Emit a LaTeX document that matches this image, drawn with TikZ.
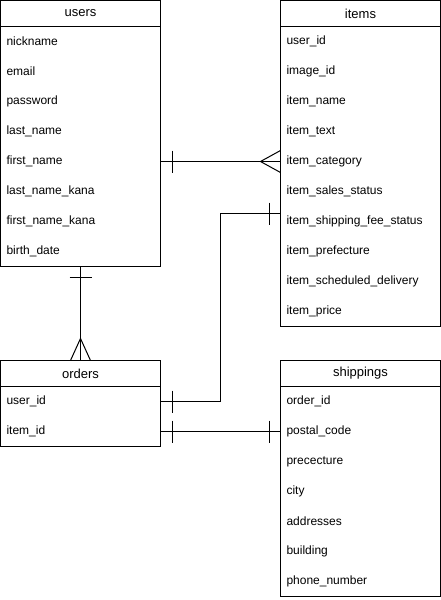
\documentclass[tikz,border=0pt]{standalone}
\usepackage{fontspec}
\setmainfont{Liberation Sans}
\usetikzlibrary{calc, chains, positioning}

\begin{document}
\begin{tikzpicture}[
   x=0.75pt, y=-0.75pt,
   line width=0.75pt,
   node distance=0pt,
   font=\fontsize{9}{11}\selectfont,
   tbl/.style = {draw, inner sep=0pt, outer sep=0pt, minimum width=120pt, minimum height=19.5pt, font=\fontsize{9.75}{12}\selectfont},
   attr/.style = {inner sep=0pt, outer sep=0pt, minimum width=120pt, minimum height=22.5pt, text width=111pt, align=left}]
   \useasboundingbox (0,0) rectangle (441,600);

   \begin{scope}[start chain=going below]
   \node[tbl, on chain, anchor=north west] (users) at (0.5,0.5) {users};
   \node[attr, on chain] (u1) {nickname};
   \node[attr, on chain] (u2) {email};
   \node[attr, on chain] (u3) {password};
   \node[attr, on chain] (u4) {last\_name};
   \node[attr, on chain] (u5) {first\_name};
   \node[attr, on chain] (u6) {last\_name\_kana};
   \node[attr, on chain] (u7) {first\_name\_kana};
   \node[attr, on chain] (u8) {birth\_date};
   \end{scope}
   \draw (u1.north west) rectangle (u8.south east);

   \begin{scope}[start chain=going below]
   \node[tbl, on chain, anchor=north west] (items) at (280.5,0.5) {items};
   \node[attr, on chain] (i1) {user\_id};
   \node[attr, on chain] (i2) {image\_id};
   \node[attr, on chain] (i3) {item\_name};
   \node[attr, on chain] (i4) {item\_text};
   \node[attr, on chain] (i5) {item\_category};
   \node[attr, on chain] (i6) {item\_sales\_status};
   \node[attr, on chain] (i7) {item\_shipping\_fee\_status};
   \node[attr, on chain] (i8) {item\_prefecture};
   \node[attr, on chain] (i9) {item\_scheduled\_delivery};
   \node[attr, on chain] (i10) {item\_price};
   \end{scope}
   \draw (i1.north west) rectangle (i10.south east);

   \begin{scope}[start chain=going below]
   \node[tbl, on chain, anchor=north west] (orders) at (0.5,360.5) {orders};
   \node[attr, on chain] (o1) {user\_id};
   \node[attr, on chain] (o2) {item\_id};
   \end{scope}
   \draw (o1.north west) rectangle (o2.south east);

   \begin{scope}[start chain=going below]
   \node[tbl, on chain, anchor=north west] (shippings) at (280.5,360.5) {shippings};
   \node[attr, on chain] (s1) {order\_id};
   \node[attr, on chain] (s2) {postal\_code};
   \node[attr, on chain] (s3) {prececture};
   \node[attr, on chain] (s4) {city};
   \node[attr, on chain] (s5) {addresses};
   \node[attr, on chain] (s6) {building};
   \node[attr, on chain] (s7) {phone\_number};
   \end{scope}
   \draw (s1.north west) rectangle (s7.south east);

   % users -- items
   \draw (u5.east) -- (i5.west);
   \draw ($(u5.east)+(12,-11)$) -- ++(0,22);
   \draw ($(i5.west)+(0,-11)$) -- ++(-20,11) -- ++(20,11);

   % orders -- items
   \coordinate (fee) at ($(i7.west)+(0,-8)$);
   \draw (o1.east) -| ($(o1.east)!.5!(fee)$) |- (fee);
   \draw ($(o1.east)+(12,-11)$) -- ++(0,22);
   \draw ($(fee)+(-11,-11)$) -- ++(0,22);

   % users -- orders
   \draw (u8.south) -- (orders.north);
   \draw ($(u8.south)+(-11,11)$) -- ++(22,0);
   \draw ($(orders.north)+(-10,0)$) -- ++(10,-22) -- ++(10,22);

   % orders -- shippings
   \draw (o2.east) -- (s2.west);
   \draw ($(o2.east)+(12,-11)$) -- ++(0,22);
   \draw ($(s2.west)+(-11,-11)$) -- ++(0,22);
\end{tikzpicture}
\end{document}
